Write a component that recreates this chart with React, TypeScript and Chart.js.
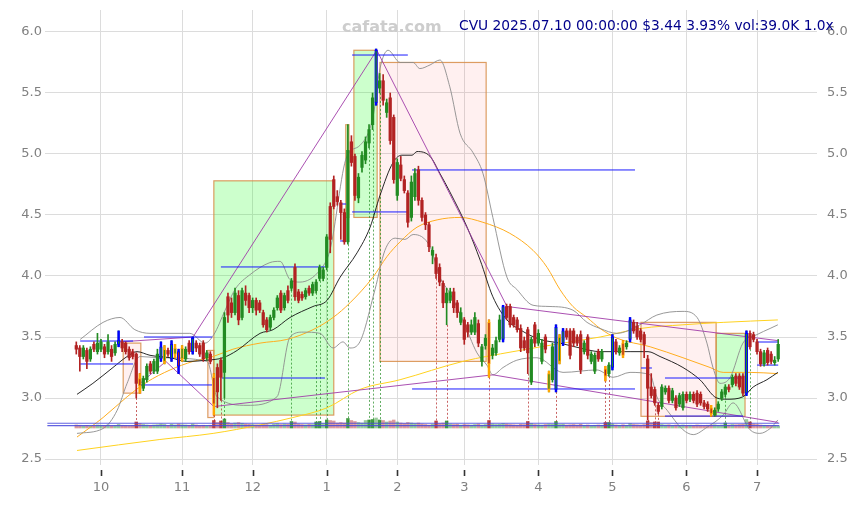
import React, { useEffect, useRef } from "react";
import { Chart, registerables } from "chart.js";

Chart.register(...registerables);

// ---- daily candles (index 0 = 2024-09-20 ... 199 = 2025-07-10) ----
const OPEN = [
  3.43,3.41,3.34,3.39,3.32,3.44,3.38,3.40,3.42,3.38,
  3.40,3.37,3.44,3.46,3.45,3.40,3.38,3.36,3.16,3.08,
  3.15,3.28,3.22,3.22,3.32,3.30,3.39,3.32,3.36,3.38,
  3.32,3.32,3.45,3.38,3.45,3.43,3.45,3.33,3.36,3.17,
  3.25,3.31,3.21,3.83,3.78,3.70,3.84,3.66,3.86,3.84,
  3.74,3.80,3.78,3.70,3.64,3.58,3.66,3.74,3.86,3.74,
  3.88,3.90,4.07,3.87,3.85,3.83,3.90,3.86,3.88,3.98,
  3.98,4.07,4.57,4.79,4.65,4.60,4.52,4.28,5.10,4.98,
  4.64,4.89,4.95,5.09,5.24,5.42,5.54,5.60,5.34,5.46,
  5.30,4.66,4.91,4.79,4.68,4.48,4.65,4.87,4.62,4.50,
  4.42,4.17,4.15,4.07,3.94,3.78,3.80,3.87,3.78,3.62,
  3.64,3.60,3.54,3.54,3.61,3.30,3.43,3.62,3.35,3.37,
  3.48,3.48,3.75,3.75,3.66,3.64,3.57,3.47,3.56,3.13,
  3.60,3.45,3.30,3.50,3.07,3.15,3.07,3.30,3.45,3.55,
  3.55,3.55,3.50,3.52,3.38,3.50,3.30,3.22,3.38,3.32,
  3.24,3.20,3.25,3.46,3.37,3.45,3.42,3.48,3.62,3.59,
  3.55,3.52,3.32,3.09,3.07,2.94,2.93,3.05,3.08,2.98,
  3.00,2.95,2.92,3.03,2.99,3.03,3.04,3.03,2.96,2.95,
  2.92,2.86,2.91,3.00,3.03,3.09,3.11,3.18,3.18,3.18,
  3.04,3.53,3.52,3.46,3.38,3.28,3.39,3.36,3.29,3.32,
];
const HIGH = [
  3.46,3.43,3.43,3.41,3.42,3.46,3.53,3.48,3.44,3.52,
  3.43,3.46,3.55,3.48,3.46,3.42,3.40,3.37,3.20,3.18,
  3.28,3.30,3.32,3.40,3.46,3.43,3.41,3.47,3.44,3.40,
  3.43,3.42,3.47,3.50,3.47,3.45,3.47,3.39,3.38,3.20,
  3.28,3.33,3.70,3.86,3.82,3.90,3.88,3.90,3.92,3.86,
  3.82,3.82,3.80,3.72,3.66,3.68,3.74,3.84,3.88,3.86,
  3.92,3.98,4.10,3.89,3.87,3.90,3.92,3.95,3.97,4.09,
  4.07,4.34,4.60,4.82,4.70,4.62,4.55,5.24,5.15,5.00,
  4.84,5.02,5.14,5.24,5.50,5.86,5.66,5.65,5.45,5.50,
  5.32,4.96,4.98,4.82,4.70,4.82,4.88,4.90,4.64,4.52,
  4.44,4.24,4.18,4.10,3.96,3.90,3.90,3.90,3.80,3.74,
  3.66,3.62,3.64,3.70,3.64,3.44,3.52,3.64,3.44,3.50,
  3.68,3.76,3.77,3.77,3.68,3.66,3.60,3.50,3.58,3.50,
  3.62,3.56,3.48,3.52,3.22,3.45,3.60,3.52,3.57,3.57,
  3.57,3.57,3.52,3.55,3.47,3.52,3.38,3.37,3.40,3.40,
  3.26,3.29,3.52,3.48,3.43,3.47,3.47,3.66,3.64,3.62,
  3.57,3.54,3.35,3.20,3.09,2.96,3.11,3.10,3.10,3.08,
  3.02,3.04,3.05,3.05,3.05,3.05,3.06,3.05,2.98,2.97,
  2.94,2.92,2.97,3.07,3.11,3.11,3.19,3.20,3.20,3.20,
  3.55,3.55,3.54,3.48,3.40,3.39,3.41,3.38,3.34,3.48,
];
const LOW = [
  3.36,3.22,3.32,3.24,3.30,3.38,3.36,3.38,3.33,3.36,
  3.30,3.35,3.42,3.38,3.36,3.31,3.32,3.00,3.04,3.06,
  3.13,3.20,3.20,3.20,3.30,3.28,3.34,3.30,3.33,3.20,
  3.30,3.30,3.36,3.36,3.38,3.34,3.30,3.31,3.28,2.86,
  2.92,2.98,3.00,3.62,3.66,3.68,3.60,3.64,3.76,3.70,
  3.70,3.68,3.70,3.58,3.54,3.56,3.64,3.72,3.70,3.72,
  3.78,3.88,3.80,3.78,3.80,3.81,3.84,3.84,3.86,3.96,
  3.96,4.05,4.19,4.55,4.58,4.30,4.26,4.26,4.90,4.62,
  4.60,4.85,4.92,5.05,5.20,5.40,5.50,5.40,5.30,5.08,
  4.76,4.62,4.78,4.68,4.40,4.45,4.62,4.58,4.45,4.38,
  4.20,4.10,3.98,3.92,3.74,3.60,3.78,3.70,3.66,3.60,
  3.44,3.50,3.52,3.52,3.42,3.26,3.40,3.17,3.32,3.35,
  3.46,3.46,3.64,3.58,3.58,3.54,3.38,3.39,3.20,3.11,
  3.42,3.43,3.28,3.37,3.05,3.13,3.05,3.28,3.43,3.48,
  3.32,3.42,3.43,3.20,3.36,3.32,3.28,3.20,3.30,3.30,
  3.14,3.18,3.23,3.36,3.35,3.33,3.40,3.46,3.53,3.48,
  3.46,3.33,2.82,3.00,2.94,2.87,2.91,3.03,2.96,2.96,
  2.90,2.93,2.90,2.96,2.97,2.96,2.93,2.94,2.91,2.89,
  2.85,2.85,2.89,2.98,3.01,3.05,3.09,3.10,3.07,3.02,
  3.02,3.40,3.46,3.36,3.26,3.26,3.27,3.28,3.27,3.30,
];
const CLOSE = [
  3.40,3.34,3.41,3.30,3.40,3.40,3.45,3.46,3.36,3.46,
  3.34,3.44,3.47,3.41,3.38,3.33,3.34,3.12,3.10,3.16,
  3.26,3.22,3.30,3.36,3.42,3.40,3.36,3.44,3.41,3.26,
  3.41,3.40,3.38,3.49,3.41,3.36,3.32,3.37,3.30,2.95,
  3.05,3.17,3.66,3.68,3.70,3.86,3.64,3.88,3.80,3.74,
  3.80,3.72,3.72,3.60,3.56,3.66,3.72,3.82,3.72,3.84,
  3.80,3.96,3.83,3.80,3.82,3.88,3.86,3.93,3.95,4.07,
  4.05,4.32,4.30,4.57,4.61,4.52,4.28,5.03,4.93,4.66,
  4.81,4.99,5.10,5.20,5.46,5.85,5.60,5.44,5.42,5.11,
  4.79,4.93,4.80,4.70,4.44,4.77,4.84,4.62,4.48,4.42,
  4.24,4.21,4.02,3.95,3.78,3.86,3.87,3.74,3.70,3.70,
  3.48,3.54,3.60,3.66,3.45,3.42,3.49,3.28,3.41,3.47,
  3.64,3.75,3.66,3.60,3.60,3.56,3.41,3.41,3.37,3.48,
  3.45,3.53,3.45,3.40,3.20,3.42,3.58,3.50,3.55,3.50,
  3.35,3.45,3.45,3.23,3.45,3.35,3.36,3.35,3.32,3.38,
  3.18,3.27,3.50,3.38,3.41,3.35,3.45,3.64,3.55,3.50,
  3.48,3.44,3.08,3.02,2.96,2.89,3.09,3.08,2.98,3.06,
  2.92,3.02,3.03,2.98,3.03,2.98,2.95,2.96,2.93,2.91,
  2.87,2.90,2.95,3.05,3.09,3.07,3.17,3.12,3.09,3.04,
  3.53,3.42,3.48,3.38,3.28,3.37,3.29,3.30,3.31,3.44,
];
// volume in thousands
const VOLUME = [
  60,55,45,50,40,45,60,55,50,60,
  45,50,70,55,50,45,50,120,90,70,
  60,55,60,65,80,70,50,75,60,80,
  65,60,55,80,60,50,55,45,55,150,
  110,140,180,110,90,100,110,95,80,75,
  70,65,60,80,70,60,75,85,70,80,
  75,130,120,80,70,65,75,70,120,130,
  90,160,150,140,100,110,100,190,150,130,
  110,100,150,160,170,200,160,150,120,140,
  160,120,100,90,110,100,90,100,80,70,
  60,75,140,90,100,140,80,70,75,60,
  70,65,60,70,80,60,70,150,80,70,
  75,90,80,70,65,60,75,70,130,90,
  70,65,60,70,80,75,130,70,75,60,
  65,70,60,75,55,60,50,55,60,55,
  110,110,80,60,55,65,55,90,70,65,
  60,70,140,110,120,120,70,60,65,55,
  60,55,60,50,55,50,60,55,50,55,
  60,65,55,60,100,60,70,65,70,75,
  170,120,80,70,60,55,50,45,50,39,
];

const BLUE_MARKED = [12, 24, 27, 29, 33, 85, 121, 136, 138, 152, 157, 190];
const ORANGE_MARKED = [18, 25, 28, 30, 39, 117, 134, 137, 150, 155, 180];
const SIGNAL_DOWN = [17, 39, 41, 102, 105, 117, 128, 136, 150, 151, 162, 164, 165];
const SIGNAL_UP = [42, 61, 68, 69, 71, 77, 83, 84, 86, 184, 191];

const MONTH_TICKS = [7, 30, 50, 71, 91, 110, 131, 152, 173, 193];
const MONTH_LABELS = ["10", "11", "12", "1", "2", "3", "4", "5", "6", "7"];
const PRICE_TICKS = [2.5, 3, 3.5, 4, 4.5, 5, 5.5, 6];

// overlay curves: [day index, price]
const MA_SHORT = [
  [0.2,3.03],[4.7,3.12],[10.4,3.25],[14.4,3.34],[17.2,3.38],[20.9,3.35],[26.6,3.33],[31.4,3.30],
  [37.1,3.31],[41.6,3.33],[45.6,3.39],[52.1,3.53],[55.8,3.56],[60.6,3.66],[67.1,3.75],[71.1,3.80],
  [74.8,3.99],[79.6,4.19],[83.3,4.40],[86.1,4.66],[89.8,4.93],[92.3,4.99],[95.2,4.99],[96.6,5.02],
  [100.3,4.98],[103.1,4.84],[105.9,4.69],[110.8,4.40],[114.5,4.13],[118.1,3.83],[122.1,3.64],
  [125.8,3.56],[131.5,3.48],[137.1,3.45],[142.8,3.41],[148.5,3.38],[157,3.38],[162.1,3.38],
  [165.5,3.34],[172,3.25],[176.8,3.15],[181.6,3.00],[184.5,2.99],[189,3.01],[191.9,3.09],
  [195.8,3.15],[198.9,3.21],
];
const MA_MID = [
  [0.2,2.68],[7.6,2.84],[14.4,3.01],[20.0,3.13],[26.6,3.23],[33.1,3.30],[38.8,3.34],[44.4,3.40],
  [52.1,3.45],[59.7,3.48],[67.1,3.56],[72.8,3.66],[77.6,3.78],[84.1,3.99],[88.1,4.16],[91.8,4.28],
  [96.6,4.40],[102.3,4.46],[108.8,4.48],[115.3,4.44],[122.9,4.35],[129.5,4.21],[133.5,4.07],
  [137.1,3.89],[140.8,3.75],[144.8,3.66],[148.5,3.57],[153.3,3.49],[162.7,3.42],[172,3.33],
  [179.7,3.25],[183.4,3.21],[191,3.21],[198.9,3.20],
];
const MA_LONG = [
  [0.2,2.57],[23.7,2.66],[38.8,2.71],[52.1,2.78],[61.4,2.84],[71.1,2.92],[80.4,3.07],[91.8,3.15],
  [109.6,3.30],[123.8,3.38],[138,3.45],[148.5,3.50],[160,3.57],[172,3.60],[183.4,3.62],[198.9,3.64],
];
const BAND_UPPER = [
  [1.1,3.48],[7.6,3.62],[12.4,3.66],[16.6,3.56],[20.9,3.53],[32.2,3.53],[36.5,3.45],[39.0,3.52],
  [42.2,3.72],[45.0,3.89],[49.2,4.01],[54.9,4.11],[57.8,4.12],[60.6,3.97],[63.4,3.95],[69.1,4.05],
  [71.9,4.21],[76.7,4.98],[80.4,5.07],[84.1,5.30],[86.1,5.70],[88.4,5.85],[91.8,5.75],[95.5,5.75],
  [97.4,5.70],[100.3,5.73],[103.1,5.77],[105.9,5.55],[108.8,5.17],[112.5,5.01],[115.3,4.84],
  [118.1,4.48],[122.1,3.99],[124.9,3.89],[129.5,3.76],[134.3,3.75],[140.8,3.72],[144.8,3.62],
  [148.5,3.57],[153.3,3.53],[159.8,3.60],[164.6,3.68],[172,3.71],[176,3.66],[178.8,3.45],
  [180.5,3.25],[182.5,3.12],[185.4,3.17],[189,3.45],[193,3.52],[196.7,3.57],[198.9,3.60],
];
const BAND_LOWER = [
  [0.2,2.71],[7.6,2.75],[11.6,2.90],[14.4,3.12],[18.1,3.34],[23.7,3.33],[37.1,3.30],[39.9,3.01],
  [48.4,2.94],[56.9,3.01],[60.6,3.50],[64.3,3.54],[69.1,3.53],[72.8,3.41],[75.6,3.46],[77.6,3.41],
  [80.4,3.46],[84.7,3.89],[87.5,4.21],[90.4,4.31],[93.2,4.30],[95.5,4.34],[100.3,4.24],[103.1,3.99],
  [105.9,3.86],[109.6,3.64],[113.6,3.37],[116.4,3.27],[118.1,3.19],[121,3.25],[124.9,3.31],
  [130.6,3.33],[138,3.21],[147.6,3.23],[152.2,3.17],[157,3.21],[162.7,3.19],[164.6,3.01],
  [167.5,2.90],[172,2.74],[174.9,2.70],[178.8,2.76],[183.4,2.86],[186.2,2.96],[191,2.74],
  [193.8,2.71],[196.7,2.75],[198.9,2.82],
];
const SWING_HIGHS = [[12.4,3.46],[33.1,3.50],[85.2,5.85],[122.1,3.75],[199,3.47]];
const SWING_LOWS = [[18.1,3.12],[25.4,3.30],[39.0,2.93],[118.1,3.19],[199,2.80]];
// horizontal levels: [from, to, price]
const LEVELS = [
  [1.1,16.1,3.467],[1.1,16.1,3.279],[19.2,38.5,3.50],[18.1,38.5,3.107],[41.3,70.5,3.164],
  [41.0,70.5,4.074],[74.8,76.5,4.59],[74.8,76.5,4.287],[78.2,94.0,4.525],[78.2,94.0,5.811],
  [95.2,158.4,4.869],[95.2,158.4,3.074],[160.1,163.2,3.246],[166.9,189.0,3.164],
  [166.9,189.0,2.852],[193.0,199.0,3.459],[193.0,199.0,3.27],
];
// zones: [from, to, low, high, kind]
const ZONES = [
  [13.3,18.3,3.04,3.45,"down"],[37.3,39.0,2.84,3.39,"down"],[39.0,73.0,2.86,4.78,"up"],
  [76.4,77.3,4.48,5.24,"up"],[78.7,85.3,4.48,5.85,"up"],[86.1,116.2,3.30,5.75,"down"],
  [160.1,181.4,2.85,3.62,"down"],[181.4,189.6,2.85,3.53,"up"],
];
const VOLUME_RULES = [2.793, 2.773];
const SIGNAL_FLOOR = 2.8;

const GREEN = "#228b22";
const RED = "#b22222";

export default function App() {
  const ref = useRef<HTMLCanvasElement | null>(null);

  useEffect(() => {
    document.body.style.margin = "0";
    const canvas = ref.current;
    if (!canvas) return;
    Chart.defaults.font.family = '"DejaVu Sans", sans-serif';

    const idx = CLOSE.map((_, i) => i);
    const isUp = (i: number) => CLOSE[i] >= OPEN[i];
    const mark = (i: number) =>
      BLUE_MARKED.includes(i) ? "#0000ff" : ORANGE_MARKED.includes(i) ? "#ffa500" : null;
    const sig = (i: number) => SIGNAL_DOWN.includes(i) || SIGNAL_UP.includes(i);
    const pts = (arr: number[][]) => arr.map(([x, y]) => ({ x, y }));
    const markedIdx = idx.filter((i) => mark(i));
    const noPad = (s: any) => {
      s.paddingTop = 0;
      s.paddingBottom = 0;
      s.paddingLeft = 0;
      s.paddingRight = 0;
    };

    const underlay = {
      id: "underlay",
      beforeDatasetsDraw(chart: any) {
        const { ctx, scales } = chart;
        const x = scales.x, y = scales.y;
        ctx.save();
        for (const [a, b, lo, hi, kind] of ZONES as any[]) {
          const x1 = x.getPixelForValue(a), x2 = x.getPixelForValue(b);
          const y1 = y.getPixelForValue(hi), y2 = y.getPixelForValue(lo);
          ctx.fillStyle = kind === "up" ? "rgba(0,255,0,0.2)" : "rgba(255,0,0,0.06)";
          ctx.fillRect(x1, y1, x2 - x1, y2 - y1);
          ctx.strokeStyle = "rgba(215,140,70,0.85)";
          ctx.lineWidth = 1.2;
          ctx.strokeRect(x1, y1, x2 - x1, y2 - y1);
        }
        ctx.setLineDash([2, 2]);
        ctx.lineWidth = 1;
        const drawSig = (list: number[], color: string) => {
          ctx.strokeStyle = color;
          for (const i of list) {
            const px = Math.round(x.getPixelForValue(i)) + 0.5;
            ctx.beginPath();
            ctx.moveTo(px, y.getPixelForValue(LOW[i]));
            ctx.lineTo(px, y.getPixelForValue(SIGNAL_FLOOR));
            ctx.stroke();
          }
        };
        drawSig(SIGNAL_DOWN, "rgba(178,34,34,0.7)");
        drawSig(SIGNAL_UP, "rgba(34,139,34,0.7)");
        ctx.restore();
      },
    };

    const overlay = {
      id: "overlay",
      afterDraw(chart: any) {
        const { ctx, scales } = chart;
        ctx.save();
        ctx.strokeStyle = "#333";
        ctx.lineWidth = 1.6;
        for (const t of MONTH_TICKS) {
          const px = Math.round(scales.x.getPixelForValue(t)) + 0.5;
          ctx.beginPath();
          ctx.moveTo(px, 470);
          ctx.lineTo(px, 476);
          ctx.stroke();
        }
        ctx.textBaseline = "alphabetic";
        ctx.textAlign = "left";
        ctx.font = 'bold 16px "DejaVu Sans"';
        ctx.fillStyle = "#cdcdcd";
        ctx.fillText("cafata.com", 342, 32);
        ctx.font = '13.8px "DejaVu Sans"';
        ctx.fillStyle = "#00008b";
        ctx.fillText("CVU 2025.07.10 00:00:00 $3.44 3.93% vol:39.0K 1.0x", 459, 30);
        ctx.restore();
      },
    };

    const lineDs = (data: any[], color: string, width: number, order: number, smooth = true) => ({
      type: "line" as const,
      data,
      borderColor: color,
      borderWidth: width,
      pointRadius: 0,
      fill: false,
      tension: 0,
      cubicInterpolationMode: smooth ? ("monotone" as const) : ("default" as const),
      spanGaps: false,
      order,
    });

    const levelPts: any[] = [];
    for (const [a, b, p] of LEVELS) {
      levelPts.push({ x: a, y: p }, { x: b, y: p }, { x: b, y: null });
    }

    const chart = new Chart(canvas, {
      type: "bar",
      data: {
        datasets: [
          {
            type: "bar",
            data: idx.map((i) => ({ x: i, y: [OPEN[i], CLOSE[i]] })) as any,
            backgroundColor: idx.map((i) => (isUp(i) ? GREEN : RED)),
            borderColor: idx.map((i) => mark(i) || (isUp(i) ? GREEN : RED)),
            borderWidth: idx.map((i) => (mark(i) ? 1 : 0)),
            borderSkipped: false,
            barThickness: 2.6,
            grouped: false,
            order: 1,
          },
          {
            type: "bar",
            data: idx.map((i) => ({ x: i, y: [LOW[i], HIGH[i]] })) as any,
            backgroundColor: idx.map((i) => (isUp(i) ? GREEN : RED)),
            borderWidth: 0,
            barThickness: 1,
            grouped: false,
            order: 3,
          },
          {
            type: "bar",
            data: markedIdx.map((i) => ({ x: i, y: [LOW[i], HIGH[i]] })) as any,
            backgroundColor: markedIdx.map((i) => mark(i)),
            borderWidth: 0,
            barThickness: 1.8,
            grouped: false,
            order: 2,
          },
          {
            type: "bar",
            yAxisID: "v",
            data: idx.map((i) => ({ x: i, y: VOLUME[i] })) as any,
            backgroundColor: idx.map((i) =>
              isUp(i)
                ? sig(i) ? "rgba(34,139,34,0.85)" : "rgba(34,139,34,0.45)"
                : sig(i) ? "rgba(178,34,34,0.85)" : "rgba(178,34,34,0.45)"
            ),
            borderWidth: 0,
            barThickness: 2.8,
            grouped: false,
            order: 30,
          },
          lineDs(pts(MA_LONG), "#ffd21f", 1, 12),
          lineDs(pts(MA_MID), "#ffad1f", 1, 11),
          lineDs(pts(BAND_UPPER), "#8c8c8c", 0.9, 10),
          lineDs(pts(BAND_LOWER), "#8c8c8c", 0.9, 10),
          lineDs(pts(MA_SHORT), "#111111", 0.9, 9),
          lineDs(pts(SWING_HIGHS), "#a03ca8", 0.9, 5, false),
          lineDs(pts(SWING_LOWS), "#a03ca8", 0.9, 5, false),
          lineDs(levelPts, "#1a1aff", 1, 4, false),
          lineDs([{ x: -8.2, y: VOLUME_RULES[0] }, { x: 199.3, y: VOLUME_RULES[0] }], "rgba(70,70,220,0.85)", 1.2, 6, false),
          lineDs([{ x: -8.2, y: VOLUME_RULES[1] }, { x: 199.3, y: VOLUME_RULES[1] }], "rgba(70,70,220,0.85)", 1.2, 6, false),
        ] as any,
      },
      options: {
        responsive: false,
        animation: false,
        events: [],
        layout: { padding: { top: 10, left: 0, right: 0, bottom: 0 } },
        plugins: { legend: { display: false }, tooltip: { enabled: false }, title: { display: false } },
        scales: {
          x: {
            type: "linear",
            min: -8.87,
            max: 210,
            offset: false,
            grid: { color: "#dcdcdc", drawTicks: false, offset: false },
            border: { display: false },
            afterBuildTicks: (s: any) => {
              s.ticks = MONTH_TICKS.map((v) => ({ value: v }));
            },
            afterFit: (s: any) => {
              s.height = 40;
              noPad(s);
            },
            ticks: {
              autoSkip: false,
              maxRotation: 0,
              padding: 15,
              color: "#808080",
              font: { size: 13 },
              callback: (v: any) => MONTH_LABELS[MONTH_TICKS.indexOf(Number(v))] ?? "",
            },
          },
          y: {
            type: "linear",
            position: "left",
            min: 2.451,
            max: 6.18,
            grid: { color: "#dcdcdc", drawTicks: false },
            border: { display: false },
            afterBuildTicks: (s: any) => {
              s.ticks = PRICE_TICKS.map((v) => ({ value: v }));
            },
            afterFit: (s: any) => {
              s.width = 45;
              noPad(s);
            },
            ticks: {
              padding: 3,
              color: "#808080",
              font: { size: 13 },
              callback: (v: any) => Number(v).toFixed(1),
            },
          },
          y2: {
            type: "linear",
            position: "right",
            min: 2.451,
            max: 6.18,
            grid: { display: false, drawTicks: false },
            border: { display: false },
            afterBuildTicks: (s: any) => {
              s.ticks = PRICE_TICKS.map((v) => ({ value: v }));
            },
            afterFit: (s: any) => {
              s.width = 41;
              noPad(s);
            },
            ticks: {
              padding: 10,
              color: "#808080",
              font: { size: 13 },
              callback: (v: any) => Number(v).toFixed(1),
            },
          },
          v: {
            type: "linear",
            display: false,
            min: -740,
            max: 8360,
          },
        },
      } as any,
      plugins: [underlay, overlay],
    });

    return () => chart.destroy();
  }, []);

  return <canvas ref={ref} width={858} height={505} style={{ display: "block" }} />;
}
